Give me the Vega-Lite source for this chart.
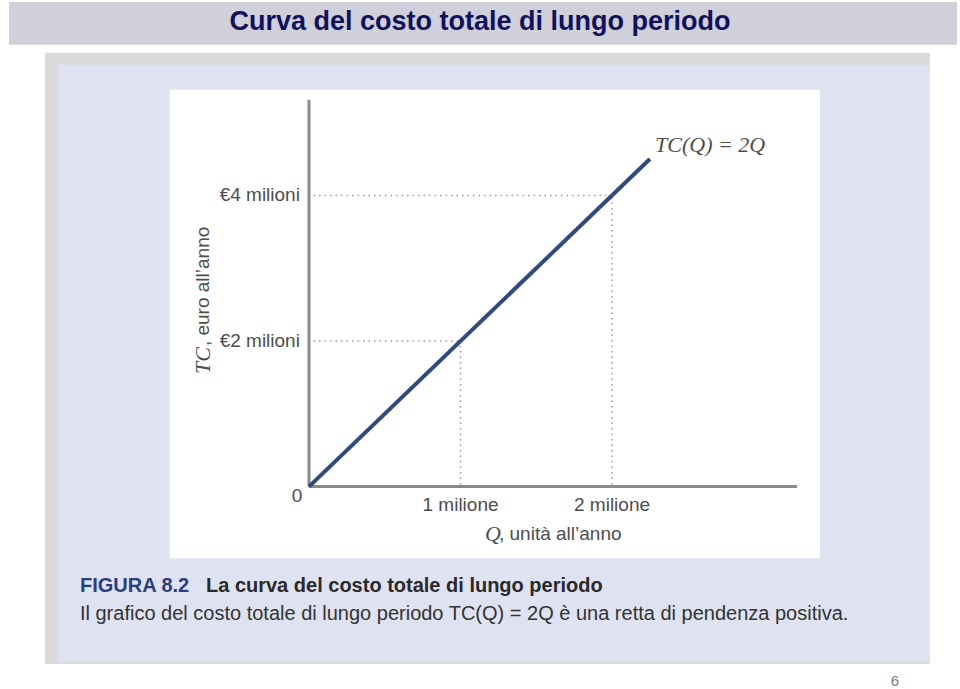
{
  "$schema": "https://vega.github.io/schema/vega-lite/v6.json",
  "width": 960,
  "height": 689,
  "autosize": {"type": "fit", "contains": "padding"},
  "padding": 0,
  "background": "#ffffff",
  "config": {"view": {"stroke": null}},
  "data": {"values": [{"slide": 6}]},
  "datasets": {
    "curve": [{"Q": 0, "TC": 0}, {"Q": 2.25, "TC": 4.5}],
    "axes": [
      {"Q": 0, "TC": 0, "Q2": 0, "TC2": 5.315},
      {"Q": 0, "TC": 0, "Q2": 3.221, "TC2": 0}
    ],
    "guides": [
      {"Q": 0.03, "TC": 4, "Q2": 2, "TC2": 4},
      {"Q": 0.03, "TC": 2, "Q2": 1, "TC2": 2},
      {"Q": 1, "TC": 0.03, "Q2": 1, "TC2": 2},
      {"Q": 2, "TC": 0.03, "Q2": 2, "TC2": 4}
    ],
    "yticks": [
      {"Q": -0.06, "TC": 4, "label": "€4 milioni"},
      {"Q": -0.06, "TC": 2, "label": "€2 milioni"}
    ],
    "xticks": [
      {"Q": 1, "TC": -0.247, "label": "1 milione"},
      {"Q": 2, "TC": -0.247, "label": "2 milione"},
      {"Q": -0.079, "TC": -0.123, "label": "0"}
    ]
  },
  "layer": [
    {
      "mark": {"type": "rect", "color": "#cfd0d9"},
      "encoding": {
        "x": {"datum": -1.98, "type": "quantitative", "scale": {"domain": [-2.0396, 4.297], "nice": false, "zero": false}, "axis": null},
        "x2": {"datum": 4.277},
        "y": {"datum": 6.658, "type": "quantitative", "scale": {"domain": [-2.7534, 6.6849], "nice": false, "zero": false}, "axis": null},
        "y2": {"datum": 6.07}
      }
    },
    {
      "mark": {"type": "text", "font": "Liberation Sans, sans-serif", "fontWeight": "bold", "fontSize": 27, "color": "#10105e", "align": "center", "baseline": "middle"},
      "encoding": {
        "x": {"datum": 1.129, "type": "quantitative"},
        "y": {"datum": 6.38, "type": "quantitative"},
        "text": {"value": "Curva del costo totale di lungo periodo"}
      }
    },
    {
      "mark": {"type": "rect", "color": "#dadadd"},
      "encoding": {
        "x": {"datum": -1.743, "type": "quantitative"},
        "x2": {"datum": 4.099},
        "y": {"datum": 5.959, "type": "quantitative"},
        "y2": {"datum": -2.438}
      }
    },
    {
      "mark": {"type": "rect", "color": "#dfe2f0"},
      "encoding": {
        "x": {"datum": -1.657, "type": "quantitative"},
        "x2": {"datum": 4.099},
        "y": {"datum": 5.795, "type": "quantitative"},
        "y2": {"datum": -2.41}
      }
    },
    {
      "mark": {"type": "rect", "color": "#ffffff"},
      "encoding": {
        "x": {"datum": -0.9175, "type": "quantitative"},
        "x2": {"datum": 3.373},
        "y": {"datum": 5.452, "type": "quantitative"},
        "y2": {"datum": -0.986}
      }
    },
    {
      "data": {"name": "guides"},
      "mark": {"type": "rule", "color": "#9a9a9a", "strokeWidth": 1.5, "strokeDash": [1.5, 4]},
      "encoding": {
        "x": {"field": "Q", "type": "quantitative"},
        "x2": {"field": "Q2"},
        "y": {"field": "TC", "type": "quantitative"},
        "y2": {"field": "TC2"}
      }
    },
    {
      "data": {"name": "axes"},
      "mark": {"type": "rule", "color": "#8a8a8a", "strokeWidth": 3},
      "encoding": {
        "x": {"field": "Q", "type": "quantitative"},
        "x2": {"field": "Q2"},
        "y": {"field": "TC", "type": "quantitative"},
        "y2": {"field": "TC2"}
      }
    },
    {
      "data": {"name": "curve"},
      "mark": {"type": "line", "color": "#2f4a7e", "strokeWidth": 4},
      "encoding": {
        "x": {"field": "Q", "type": "quantitative"},
        "y": {"field": "TC", "type": "quantitative"}
      }
    },
    {
      "data": {"name": "yticks"},
      "mark": {"type": "text", "font": "Liberation Sans, sans-serif", "fontSize": 19, "color": "#4d4d4d", "align": "right", "baseline": "middle"},
      "encoding": {
        "x": {"field": "Q", "type": "quantitative"},
        "y": {"field": "TC", "type": "quantitative"},
        "text": {"field": "label"}
      }
    },
    {
      "data": {"name": "xticks"},
      "mark": {"type": "text", "font": "Liberation Sans, sans-serif", "fontSize": 19, "color": "#4d4d4d", "align": "center", "baseline": "middle"},
      "encoding": {
        "x": {"field": "Q", "type": "quantitative"},
        "y": {"field": "TC", "type": "quantitative"},
        "text": {"field": "label"}
      }
    },
    {
      "mark": {"type": "text", "font": "Liberation Serif, serif", "fontStyle": "italic", "fontSize": 22, "color": "#4d4d4d", "align": "left", "baseline": "middle"},
      "encoding": {
        "x": {"datum": 1.162, "type": "quantitative"},
        "y": {"datum": -0.658, "type": "quantitative"},
        "text": {"value": "Q"}
      }
    },
    {
      "mark": {"type": "text", "font": "Liberation Sans, sans-serif", "fontSize": 19, "color": "#4d4d4d", "align": "left", "baseline": "middle"},
      "encoding": {
        "x": {"datum": 1.254, "type": "quantitative"},
        "y": {"datum": -0.658, "type": "quantitative"},
        "text": {"value": ", unità all’anno"}
      }
    },
    {
      "mark": {"type": "text", "font": "Liberation Serif, serif", "fontStyle": "italic", "fontSize": 22, "color": "#4d4d4d", "align": "left", "baseline": "middle", "angle": 270},
      "encoding": {
        "x": {"datum": -0.70, "type": "quantitative"},
        "y": {"datum": 1.548, "type": "quantitative"},
        "text": {"value": "TC"}
      }
    },
    {
      "mark": {"type": "text", "font": "Liberation Sans, sans-serif", "fontSize": 19, "color": "#4d4d4d", "align": "left", "baseline": "middle", "angle": 270},
      "encoding": {
        "x": {"datum": -0.70, "type": "quantitative"},
        "y": {"datum": 1.93, "type": "quantitative"},
        "text": {"value": ", euro all’anno"}
      }
    },
    {
      "mark": {"type": "text", "font": "Liberation Serif, serif", "fontStyle": "italic", "fontSize": 22, "color": "#4d4d4d", "align": "left", "baseline": "middle"},
      "encoding": {
        "x": {"datum": 2.284, "type": "quantitative"},
        "y": {"datum": 4.699, "type": "quantitative"},
        "text": {"value": "TC(Q) = 2Q"}
      }
    },
    {
      "mark": {"type": "text", "font": "Liberation Sans, sans-serif", "fontWeight": "bold", "fontSize": 20, "color": "#2b3f7f", "align": "left", "baseline": "middle"},
      "encoding": {
        "x": {"datum": -1.512, "type": "quantitative"},
        "y": {"datum": -1.370, "type": "quantitative"},
        "text": {"value": "FIGURA 8.2"}
      }
    },
    {
      "mark": {"type": "text", "font": "Liberation Sans, sans-serif", "fontWeight": "bold", "fontSize": 20, "color": "#2a2a2a", "align": "left", "baseline": "middle"},
      "encoding": {
        "x": {"datum": -0.680, "type": "quantitative"},
        "y": {"datum": -1.370, "type": "quantitative"},
        "text": {"value": "La curva del costo totale di lungo periodo"}
      }
    },
    {
      "mark": {"type": "text", "font": "Liberation Sans, sans-serif", "fontSize": 20, "color": "#333333", "align": "left", "baseline": "middle"},
      "encoding": {
        "x": {"datum": -1.512, "type": "quantitative"},
        "y": {"datum": -1.753, "type": "quantitative"},
        "text": {"value": "Il grafico del costo totale di lungo periodo TC(Q) = 2Q è una retta di pendenza positiva."}
      }
    },
    {
      "mark": {"type": "text", "font": "Liberation Sans, sans-serif", "fontSize": 15, "color": "#7a7a7a", "align": "center", "baseline": "middle"},
      "encoding": {
        "x": {"datum": 3.868, "type": "quantitative"},
        "y": {"datum": -2.671, "type": "quantitative"},
        "text": {"field": "slide", "type": "nominal"}
      }
    }
  ]
}
